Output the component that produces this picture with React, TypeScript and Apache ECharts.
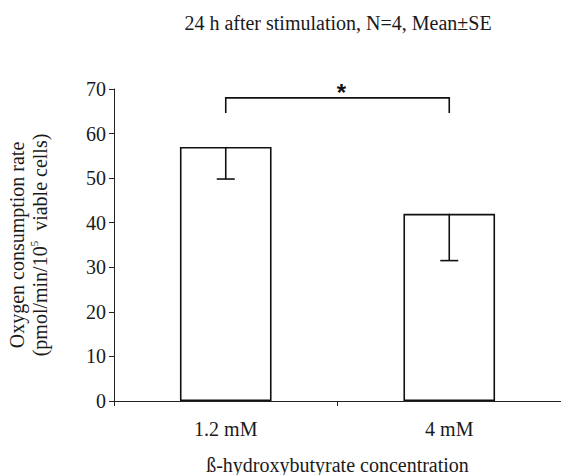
import React, { useEffect, useRef } from "react";
import * as echarts from "echarts";

const categories = ["1.2 mM", "4 mM"];
const means = [57, 42];
const lowerErrors = [7.2, 10.5];
const yTicks = { min: 0, max: 70, interval: 10 };
const bracket = { from: 0, to: 1, top: 68, legBottom: 64.6, label: "*" };
const titleText = "24 h after stimulation, N=4, Mean±SE";
const xName = "ß-hydroxybutyrate concentration";

const SERIF = "Liberation Serif";
const TXT = "#1a1a1a";

export default function App() {
  const ref = useRef<HTMLDivElement>(null);
  useEffect(() => {
    if (!ref.current) return;
    const chart = echarts.init(ref.current, null, { renderer: "svg" });
    const errData = categories.map((c, i) => [i, means[i], means[i] - lowerErrors[i]]);
    const bracketData = [[bracket.from, bracket.to, bracket.top, bracket.legBottom]];
    chart.setOption({
      animation: false,
      backgroundColor: "#ffffff",
      textStyle: { fontFamily: SERIF },
      title: {
        text: titleText,
        left: 333,
        top: 8,
        textAlign: "center",
        textStyle: { fontFamily: SERIF, fontSize: 20, fontWeight: "normal", color: TXT },
      },
      grid: { left: 114, right: 0, top: 89, bottom: 74, containLabel: false, outerBoundsMode: "none" },
      xAxis: {
        type: "category",
        data: categories,
        boundaryGap: true,
        axisLine: { lineStyle: { color: "#222", width: 1 } },
        axisTick: { show: true, length: 5, lineStyle: { color: "#222" } },
        axisLabel: { fontFamily: SERIF, fontSize: 20, color: TXT, margin: 18 },
        name: xName,
        nameLocation: "middle",
        nameGap: 54,
        nameTextStyle: { fontFamily: SERIF, fontSize: 20, color: TXT },
      },
      yAxis: {
        type: "value",
        min: yTicks.min,
        max: yTicks.max,
        interval: yTicks.interval,
        axisLine: { show: true, lineStyle: { color: "#222", width: 1 } },
        axisTick: { show: true, length: 5, lineStyle: { color: "#222" } },
        splitLine: { show: false },
        axisLabel: { fontFamily: SERIF, fontSize: 20, color: TXT, margin: 8 },
        name: "{a|Oxygen consumption rate}\n{a|(pmol/min/10}{s|5}{a|  viable cells)}",
        nameLocation: "middle",
        nameRotate: 90,
        nameGap: 63,
        nameTextStyle: {
          fontFamily: SERIF,
          fontSize: 20,
          color: TXT,
          rich: {
            a: { fontFamily: SERIF, fontSize: 20, color: TXT, lineHeight: 23 },
            s: { fontFamily: SERIF, fontSize: 11, color: TXT, lineHeight: 23, verticalAlign: "top" },
          },
        },
      },
      series: [
        {
          type: "bar",
          data: means,
          barWidth: "41%",
          itemStyle: { color: "#ffffff", borderColor: "#111", borderWidth: 1.6 },
        },
        {
          type: "custom",
          data: errData,
          z: 5,
          renderItem: (params: any, api: any) => {
            const top = api.coord([api.value(0), api.value(1)]);
            const bot = api.coord([api.value(0), api.value(2)]);
            const hw = 9;
            return {
              type: "group",
              children: [
                { type: "line", shape: { x1: top[0], y1: top[1], x2: bot[0], y2: bot[1] }, style: { stroke: "#111", lineWidth: 1.6 } },
                { type: "line", shape: { x1: bot[0] - hw, y1: bot[1], x2: bot[0] + hw, y2: bot[1] }, style: { stroke: "#111", lineWidth: 1.6 } },
              ],
            };
          },
        },
        {
          type: "custom",
          data: bracketData,
          clip: false,
          z: 5,
          renderItem: (params: any, api: any) => {
            const a0 = api.coord([api.value(0), api.value(3)]);
            const a1 = api.coord([api.value(0), api.value(2)]);
            const b1 = api.coord([api.value(1), api.value(2)]);
            const b0 = api.coord([api.value(1), api.value(3)]);
            return {
              type: "group",
              children: [
                {
                  type: "polyline",
                  shape: { points: [a0, a1, b1, b0] },
                  style: { stroke: "#111", lineWidth: 1.6, fill: "none" },
                },
                {
                  type: "text",
                  x: (a1[0] + b1[0]) / 2 + 4,
                  y: a1[1] - 5,
                  style: {
                    text: bracket.label,
                    fontFamily: "Liberation Sans",
                    fontSize: 24,
                    fontWeight: "bold",
                    fill: "#111",
                    align: "center",
                    verticalAlign: "middle",
                  },
                },
              ],
            };
          },
        },
      ],
    });
    return () => chart.dispose();
  }, []);
  return (
    <div
      ref={ref}
      style={{ position: "fixed", left: 0, top: 0, width: 561, height: 475, background: "#fff" }}
    />
  );
}
